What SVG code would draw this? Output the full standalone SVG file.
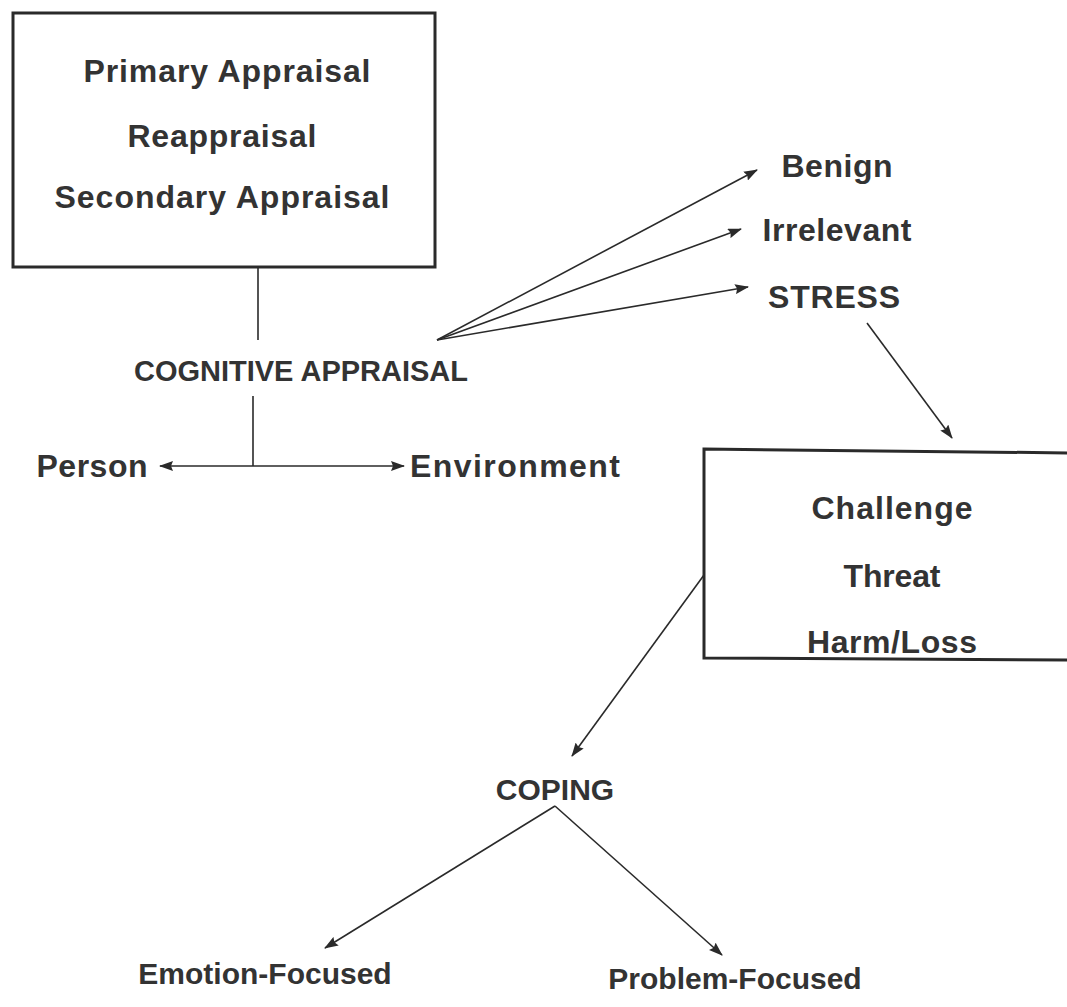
<svg xmlns="http://www.w3.org/2000/svg" width="1067" height="1007" viewBox="0 0 1067 1007">
<defs>
<marker id="ah" viewBox="0 0 14 10" refX="13" refY="5" markerWidth="14" markerHeight="10" markerUnits="userSpaceOnUse" orient="auto-start-reverse">
<path d="M0,0 L14,5 L0,10 L2,5 Z" fill="#2a2a2a"/>
</marker>
<style>
.t{font-family:"Liberation Sans",Arial,Helvetica,sans-serif;font-weight:bold;font-size:32px;fill:#333;text-anchor:middle}
.s{font-size:30px}
.box{fill:none;stroke:#2a2a2a;stroke-width:3}
.ln{fill:none;stroke:#2a2a2a;stroke-width:1.6}
.ar{fill:none;stroke:#2a2a2a;stroke-width:1.6;marker-end:url(#ah)}
</style>
</defs>
<rect width="1067" height="1007" fill="#fff"/>
<g id="connectors">
<path class="ln" d="M258,267 L258,340"/>
<path class="ln" d="M253,396 L253,466"/>
<path class="ln" d="M160,466 L404,466" stroke-width="3" marker-start="url(#ah)" marker-end="url(#ah)"/>
<path class="ar" d="M437,340 L757,170"/>
<path class="ar" d="M437,340 L741,229"/>
<path class="ar" d="M437,340 L748,287"/>
<path class="ar" d="M867,323 L952,438"/>
<path class="ar" d="M704,575 L572,756"/>
<path class="ar" d="M555,806 L325,948"/>
<path class="ar" d="M555,806 L722,955"/>
</g>
<g id="appraisal-box">
<rect class="box" x="13" y="13" width="422" height="254"/>
<text class="t" x="227" y="82" textLength="287" lengthAdjust="spacing">Primary Appraisal</text>
<text class="t" x="222" y="147" textLength="189" lengthAdjust="spacing">Reappraisal</text>
<text class="t" x="222" y="208" textLength="335" lengthAdjust="spacing">Secondary Appraisal</text>
</g>
<g id="cognitive-appraisal"><text class="t" x="301" y="381" style="font-size:29px">COGNITIVE APPRAISAL</text></g>
<g id="person"><text class="t" x="92" y="477" textLength="111" lengthAdjust="spacing">Person</text></g>
<g id="environment"><text class="t" x="515" y="477" textLength="210" lengthAdjust="spacing">Environment</text></g>
<g id="benign"><text class="t" x="837" y="177" textLength="111" lengthAdjust="spacing">Benign</text></g>
<g id="irrelevant"><text class="t" x="837" y="241" textLength="149" lengthAdjust="spacing">Irrelevant</text></g>
<g id="stress"><text class="t" x="834" y="308" textLength="132" lengthAdjust="spacing">STRESS</text></g>
<g id="appraisal-outcomes-box">
<path class="box" d="M704,449 L1075,453 L1075,660 L704,658 Z"/>
<text class="t" x="892" y="519" textLength="161" lengthAdjust="spacing">Challenge</text>
<text class="t" x="892" y="587" textLength="97" lengthAdjust="spacing">Threat</text>
<text class="t" x="892" y="653" textLength="170" lengthAdjust="spacing">Harm/Loss</text>
</g>
<g id="coping"><text class="t s" x="555" y="800">COPING</text></g>
<g id="emotion-focused"><text class="t s" x="265" y="984">Emotion-Focused</text></g>
<g id="problem-focused"><text class="t s" x="735" y="989">Problem-Focused</text></g>
</svg>
